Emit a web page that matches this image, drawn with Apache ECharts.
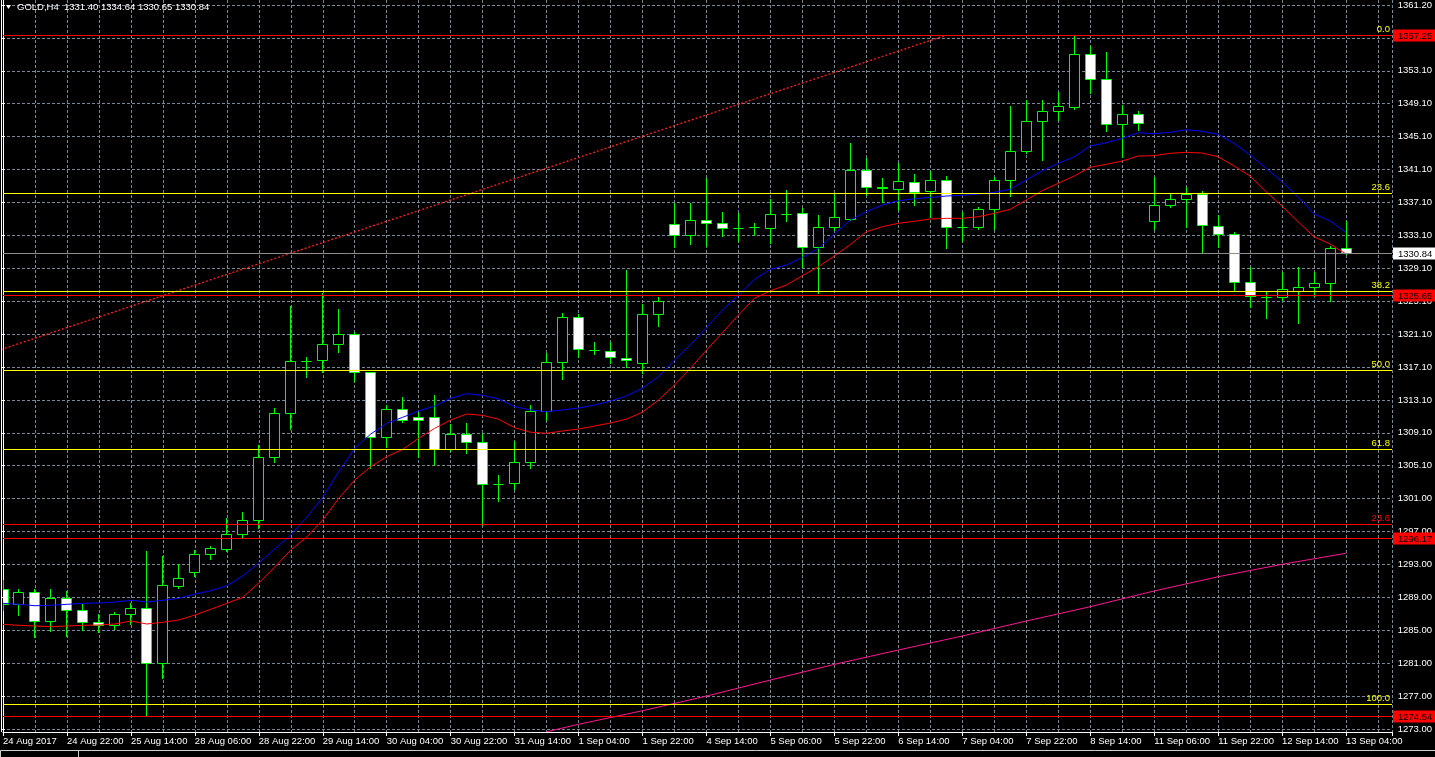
<!DOCTYPE html>
<html><head><meta charset="utf-8">
<script src="https://cdn.jsdelivr.net/npm/echarts@6/dist/echarts.min.js"></script>
<style>html,body{margin:0;padding:0;background:#000;overflow:hidden}#c{width:1435px;height:757px}</style>
</head><body><div id="c"></div>
<script>
// ---------- data ----------
const titleText = 'GOLD,H4  1331.40 1334.64 1330.65 1330.84';
const dateLabels = ['24 Aug 2017','24 Aug 22:00','25 Aug 14:00','28 Aug 06:00','28 Aug 22:00','29 Aug 14:00','30 Aug 04:00','30 Aug 22:00','31 Aug 14:00','1 Sep 04:00','1 Sep 22:00','4 Sep 14:00','5 Sep 06:00','5 Sep 22:00','6 Sep 14:00','7 Sep 04:00','7 Sep 22:00','8 Sep 14:00','11 Sep 06:00','11 Sep 22:00','12 Sep 14:00','13 Sep 04:00'];
const priceTickLabels = ['1273.00','1277.00','1281.00','1285.00','1289.00','1293.00','1297.00','1301.00','1305.10','1309.10','1313.10','1317.10','1321.10','1325.10','1329.10','1333.10','1337.10','1341.10','1345.10','1349.10','1353.10','1357.10','1361.20'];

const open = [1289.96,1288.14,1289.60,1286.08,1288.87,1287.41,1285.96,1285.63,1286.93,1287.66,
1280.98,1290.33,1292.03,1294.21,1294.82,1296.68,1298.38,1306.07,1311.34,1317.69,
1317.77,1319.71,1320.97,1316.31,1308.42,1311.82,1310.89,1310.85,1306.96,1308.79,
1307.81,1302.76,1302.84,1305.39,1311.62,1317.53,1322.99,1319.00,1318.94,1318.09,
1317.48,1323.36,1334.29,1332.95,1334.77,1334.41,1333.80,1333.97,1333.80,1335.55,
1335.62,1331.49,1333.92,1334.97,1340.84,1338.76,1338.61,1339.46,1338.37,1339.63,
1333.99,1334.00,1336.11,1339.63,1343.15,1346.83,1348.01,1348.57,1354.97,1351.89,
1346.50,1347.64,1334.65,1336.59,1337.32,1337.93,1334.12,1333.07,1327.24,1325.45,
1325.42,1326.22,1326.64,1327.12,1331.40];
const close = [1288.14,1289.60,1286.08,1288.87,1287.41,1285.96,1285.63,1286.93,1287.66,1280.98,
1290.45,1291.30,1294.21,1294.94,1296.68,1298.38,1305.99,1311.34,1317.69,1317.72,
1319.71,1320.97,1316.31,1308.42,1311.82,1310.52,1310.48,1307.00,1308.79,1307.81,
1302.71,1302.79,1305.39,1311.62,1317.53,1322.99,1319.11,1319.02,1318.14,1317.77,
1323.36,1324.97,1332.95,1334.77,1334.41,1333.80,1333.87,1333.99,1335.50,1335.57,
1331.49,1333.92,1335.14,1340.84,1338.78,1338.73,1339.51,1338.24,1339.63,1333.99,
1334.00,1336.11,1339.63,1343.15,1346.83,1348.04,1348.65,1354.97,1351.89,1346.50,
1347.64,1346.62,1336.59,1337.32,1337.93,1334.16,1333.07,1327.24,1325.58,1325.42,
1326.39,1326.64,1327.12,1331.37,1330.84];
const low = [1287.45,1286.84,1284.21,1284.94,1284.33,1285.02,1284.82,1285.14,1285.71,1274.70,
1279.16,1290.09,1291.58,1293.61,1294.61,1296.31,1297.37,1305.46,1309.43,1315.71,
1316.31,1318.82,1315.29,1304.66,1307.28,1310.32,1306.07,1305.06,1306.79,1306.48,
1297.77,1300.72,1302.14,1304.73,1310.52,1315.50,1318.21,1318.54,1317.48,1316.99,
1316.19,1321.97,1331.57,1331.89,1331.65,1332.90,1332.29,1332.99,1332.05,1334.72,
1329.06,1325.98,1333.59,1334.81,1337.84,1337.03,1336.02,1336.63,1335.21,1331.37,
1332.26,1333.72,1333.68,1337.76,1342.91,1342.09,1346.95,1348.29,1350.19,1345.65,
1342.49,1345.74,1333.68,1336.42,1333.99,1330.96,1331.57,1326.19,1324.28,1322.94,
1325.09,1322.34,1325.58,1324.97,1330.65];
const high = [1291.09,1290.00,1290.00,1290.00,1289.76,1288.14,1286.96,1287.21,1288.26,1294.61,
1294.01,1293.04,1294.74,1295.26,1298.62,1299.31,1307.49,1311.94,1324.37,1318.14,
1325.91,1324.00,1321.24,1316.35,1312.34,1313.35,1311.53,1313.56,1310.00,1310.12,
1308.82,1303.84,1307.97,1312.34,1318.62,1323.48,1323.36,1319.96,1320.03,1328.74,
1324.61,1325.49,1336.91,1336.91,1339.91,1335.78,1335.62,1334.41,1337.32,1338.45,
1336.23,1335.42,1338.05,1344.12,1342.30,1339.87,1341.69,1340.39,1340.76,1340.19,
1335.82,1336.42,1339.99,1348.65,1349.38,1349.38,1350.39,1357.25,1355.94,1355.25,
1348.77,1348.04,1339.99,1337.97,1338.78,1338.33,1335.42,1333.39,1329.06,1326.03,
1328.46,1329.06,1328.46,1331.69,1334.64];

const maBlue = [1288.26,1288.14,1287.97,1288.02,1288.14,1288.26,1288.30,1288.42,1288.63,1288.42,
1288.63,1288.87,1289.39,1289.79,1290.40,1291.58,1293.16,1294.86,1296.56,1298.71,
1301.14,1304.24,1307.09,1308.82,1310.12,1310.85,1311.62,1312.22,1313.16,1313.72,
1313.52,1313.07,1312.14,1311.74,1311.53,1311.74,1311.98,1312.34,1312.83,1313.44,
1314.41,1315.78,1317.81,1319.67,1321.73,1323.88,1325.70,1327.61,1328.82,1329.34,
1330.28,1331.37,1333.11,1334.81,1335.82,1336.63,1337.15,1337.39,1337.56,1337.72,
1337.81,1337.96,1338.17,1338.54,1339.67,1340.79,1341.69,1342.49,1343.79,1344.19,
1344.73,1345.41,1345.29,1345.46,1345.77,1345.58,1345.21,1344.12,1342.70,1341.09,
1339.46,1337.64,1335.54,1334.72,1333.27];
const maRed = [1285.71,1285.59,1285.51,1285.42,1285.51,1285.59,1285.63,1285.75,1286.11,1285.75,
1285.96,1286.24,1286.84,1287.54,1288.26,1288.99,1290.73,1292.67,1294.74,1296.31,
1298.38,1301.01,1303.24,1304.85,1306.07,1306.96,1308.30,1309.51,1310.52,1311.25,
1311.09,1310.61,1309.59,1309.03,1308.91,1309.19,1309.43,1309.79,1310.16,1310.64,
1311.49,1312.95,1314.77,1316.80,1319.02,1321.12,1323.27,1325.30,1326.22,1326.92,
1328.05,1329.14,1330.44,1331.83,1333.39,1333.99,1334.41,1334.65,1334.93,1335.01,
1335.01,1335.21,1335.62,1336.11,1337.24,1338.37,1339.26,1340.15,1341.21,1341.57,
1341.97,1342.58,1342.62,1342.91,1343.03,1342.94,1342.49,1341.37,1340.15,1338.24,
1336.51,1334.60,1332.78,1331.89,1330.68];
const maPink = [[34,1272.67],[36,1273.57],[40,1275.22],[44,1277.00],[48,1278.95],[52,1280.85],[56,1282.59],[60,1284.29],[64,1286.11],[68,1287.85],[72,1289.76],[76,1291.49],[80,1293.00],[84,1294.34]];
const trendLine = [[-0.125,1319.08],[59,1357.25]];

const fibNames = ['0.0','23.6','38.2','50.0','61.8','100.0'];
const fibPrices = [1357.25,1338.08,1326.23,1316.65,1307.06,1276.04];
const redLevels = [1357.25,1325.65,1296.17,1274.54];
const redFibNames = ['23.6'], redFibPrices = [1297.86];
const bidPrice = 1330.84;

// ---------- chart ----------
const FONT = 'Liberation Sans';
const FS = 9.5;
const FONTSTR = FS + 'px "' + FONT + '"';
const GRIDC = '#778899';
const chart = echarts.init(document.getElementById('c'), null, {renderer:'canvas'});
const candleData = open.map((o,i)=>[i,o,close[i],low[i],high[i]]);

function renderCandle(params, api){
  const i=api.value(0), o=api.value(1), c=api.value(2), l=api.value(3), h=api.value(4);
  const pO=api.coord([i,o]), pC=api.coord([i,c]), pL=api.coord([i,l]), pH=api.coord([i,h]);
  const x=Math.floor(pO[0])+0.5;
  const yT=Math.round(Math.min(pO[1],pC[1]))+0.5;
  const yB=Math.round(Math.max(pO[1],pC[1]))+0.5;
  const half=5;
  const bull=c>=o;
  return {type:'group',children:[
    {type:'line',shape:{x1:x,y1:Math.round(pH[1]),x2:x,y2:Math.round(pL[1])+1},style:{stroke:'#00ff00',lineWidth:1}},
    {type:'rect',shape:{x:x-half,y:yT,width:half*2,height:Math.max(0,yB-yT)},style:{fill:bull?'#000000':'#ffffff',stroke:'#00ff00',lineWidth:1}}
  ]};
}

// horizontal level: kind 'tag' = text over the line, right side; 'box' = price box on the axis
function makeLevelRenderer(color, kind, names, boxFill, boxText){
  return function(params, api){
    const price=api.value(1), idx=api.value(2);
    const cs=params.coordSys;
    const y=Math.round(api.coord([0,price])[1])+0.5;
    const right=cs.x+cs.width;
    const ch=[{type:'line',shape:{x1:cs.x,y1:y,x2:right,y2:y},style:{stroke:color,lineWidth:1}}];
    if(kind==='tag'){
      ch.push({type:'text',style:{text:names[idx],x:right-2,y:y-1,fill:color,font:FONTSTR,align:'right',verticalAlign:'bottom'}});
    } else {
      ch.push({type:'rect',shape:{x:right+1,y:y-6,width:1435-right-1,height:12},style:{fill:boxFill}});
      ch.push({type:'text',style:{text:price.toFixed(2),x:right+6,y:y+0.5,fill:boxText,font:FONTSTR,align:'left',verticalAlign:'middle'}});
    }
    return {type:'group',children:ch};
  };
}
function levelSeries(name, prices, color, kind, names, boxFill, boxText, z){
  return {type:'custom',name:name,xAxisIndex:0,yAxisIndex:0,clip:false,z:z,silent:true,
    renderItem:makeLevelRenderer(color,kind,names,boxFill,boxText),
    encode:{x:0,y:1},data:prices.map((p,i)=>[0,p,i])};
}

const XMAX = 86.875;
const option = {
  backgroundColor:'#000000',
  animation:false,
  grid:[
    {left:2,right:43,top:0,bottom:25,containLabel:false},
    {left:2,right:43,top:2.7,bottom:28,containLabel:false}
  ],
  xAxis:[
    {type:'value',gridIndex:0,min:0,max:XMAX,interval:4,position:'bottom',
     axisLine:{show:true,onZero:false,lineStyle:{color:'#ffffff',width:1}},
     axisTick:{show:true,length:4,lineStyle:{color:'#ffffff'}},
     splitLine:{show:false},
     axisLabel:{show:true,align:'left',margin:4,color:'#ffffff',fontSize:FS,fontFamily:FONT,
       showMinLabel:true,showMaxLabel:true,hideOverlap:false,
       formatter:v=>{const q=v/4;const r=Math.round(q);return (Math.abs(q-r)<1e-6&&r<dateLabels.length)?dateLabels[r]:'';}}},
    {type:'value',gridIndex:0,min:0,max:XMAX,interval:2,position:'top',
     axisLine:{show:false},axisTick:{show:false},axisLabel:{show:false},
     splitLine:{show:true,lineStyle:{color:GRIDC,type:[3,2],width:1}}},
    {type:'value',gridIndex:1,min:0,max:1,show:false}
  ],
  yAxis:[
    {type:'value',gridIndex:0,min:1272.636,max:1361.525,position:'right',
     axisLine:{show:true,lineStyle:{color:'#ffffff',width:1}},
     axisTick:{show:false},axisLabel:{show:false},splitLine:{show:false}},
    {type:'value',gridIndex:1,min:0,max:22,interval:1,position:'right',
     axisLine:{show:false},
     axisTick:{show:true,length:3,lineStyle:{color:'#ffffff'}},
     axisLabel:{show:true,margin:6,color:'#ffffff',fontSize:FS,fontFamily:FONT,
       formatter:v=>priceTickLabels[Math.round(v)]||''},
     splitLine:{show:true,lineStyle:{color:GRIDC,type:[3,2],width:1}}}
  ],
  series:[
    {type:'custom',name:'candles',xAxisIndex:0,yAxisIndex:0,clip:true,z:2,silent:true,
     renderItem:renderCandle,encode:{x:0,y:[1,2,3,4]},data:candleData},
    {type:'line',name:'ma1',xAxisIndex:0,yAxisIndex:0,z:3,silent:true,showSymbol:false,clip:true,
     lineStyle:{color:'#0000ff',width:1},data:maBlue.map((v,i)=>[i,v])},
    {type:'line',name:'ma2',xAxisIndex:0,yAxisIndex:0,z:3,silent:true,showSymbol:false,clip:true,
     lineStyle:{color:'#ff0000',width:1},data:maRed.map((v,i)=>[i,v])},
    {type:'line',name:'ma3',xAxisIndex:0,yAxisIndex:0,z:3,silent:true,showSymbol:false,clip:true,
     lineStyle:{color:'#ff1493',width:1},data:maPink},
    {type:'line',name:'trend',xAxisIndex:0,yAxisIndex:0,z:3,silent:true,showSymbol:false,clip:true,
     lineStyle:{color:'#ff2020',width:1.3,type:[2,2]},data:trendLine},
    levelSeries('bid',[bidPrice],'#8c8c8c','box',null,'#ffffff','#000000',4),
    levelSeries('fib',fibPrices,'#ffff00','tag',fibNames,null,null,5),
    levelSeries('redfib',redFibPrices,'#ff0000','tag',redFibNames,null,null,6),
    levelSeries('levels',redLevels,'#ff0000','box',null,'#ff0000','#000000',7)
  ],
  graphic:[
    {type:'line',shape:{x1:1.5,y1:0,x2:1.5,y2:732},style:{stroke:'#ffffff',lineWidth:1},z:10},
    {type:'polygon',shape:{points:[[6,5],[11,5],[8.5,9]]},style:{fill:'#ffffff'},z:10},
    {type:'text',x:17,y:7,style:{text:titleText,fill:'#ffffff',font:FONTSTR,verticalAlign:'middle'},z:10},
    {type:'line',shape:{x1:78,y1:750.5,x2:1435,y2:750.5},style:{stroke:'#d4d0c8',lineWidth:1},z:10},
    {type:'rect',shape:{x:0.5,y:750.5,width:78,height:10},style:{fill:'#000000',stroke:'#d4d0c8',lineWidth:1},z:10}
  ]
};
chart.setOption(option);
</script></body></html>
